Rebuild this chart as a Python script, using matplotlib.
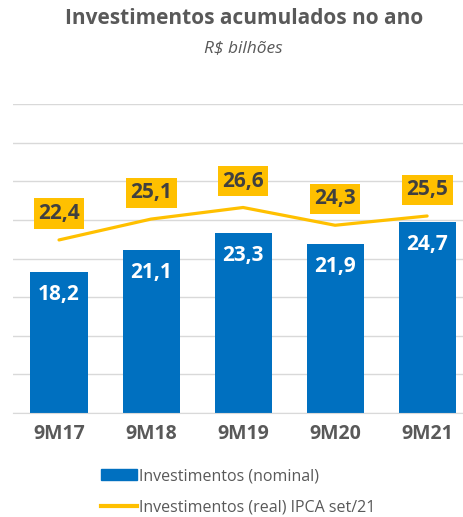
import matplotlib.pyplot as plt
from matplotlib.patches import Patch
from matplotlib.lines import Line2D

plt.rcParams['font.family'] = ['Open Sans', 'DejaVu Sans']

# data
periodos = ["9M17", "9M18", "9M19", "9M20", "9M21"]
nominal = [18.2, 21.1, 23.3, 21.9, 24.7]
real_ipca = [22.4, 25.1, 26.6, 24.3, 25.5]

cinza = "#595959"
azul = "#0070C0"
amarelo = "#FFC000"

fig = plt.figure(figsize=(4.63, 5.17), dpi=100)
ax = fig.add_axes([13 / 463, 0.201, 450 / 463, 0.598])

x = range(len(periodos))
ax.bar(x, nominal, width=0.62, color=azul, zorder=2)
ax.plot(x, real_ipca, color=amarelo, lw=2.3, zorder=3, solid_capstyle="round")

# labels inside bars
for i, v in enumerate(nominal):
    ax.annotate(f"{v:.1f}".replace(".", ","), (i, v), xytext=(0, -16),
                textcoords="offset points", ha="center", va="center",
                color="white", fontsize=15, fontweight="bold", zorder=4)

# yellow boxes above line
for i, v in enumerate(real_ipca):
    ax.annotate(f"{v:.1f}".replace(".", ","), (i, v), xytext=(0, 19),
                textcoords="offset points", ha="center", va="center",
                color="#404040", fontsize=15, fontweight="bold", zorder=5,
                bbox=dict(boxstyle="square,pad=0.22", fc=amarelo, ec="none"))

ax.set_ylim(0, 40)
ax.set_yticks(range(0, 41, 5))
ax.set_xlim(-0.5, 4.39)
ax.yaxis.grid(True, color="#D9D9D9", lw=1, zorder=0)
ax.set_axisbelow(True)
ax.tick_params(axis="y", length=0, labelleft=False)
ax.tick_params(axis="x", length=0, pad=8)
ax.set_xticks(list(x))
ax.set_xticklabels(periodos, fontsize=14, fontweight="bold", color=cinza)
for s in ["top", "right", "left"]:
    ax.spines[s].set_visible(False)
ax.spines["bottom"].set_color("#D9D9D9")

fig.text(244 / 463, 1 - 18 / 517, "Investimentos acumulados no ano", ha="center", va="center",
         fontsize=15, fontweight="bold", color=cinza)
fig.text(243 / 463, 1 - 48 / 517, "R$ bilhões", ha="center", va="center",
         fontsize=12.5, style="italic", color=cinza)

handles = [Patch(color=azul, label="Investimentos (nominal)"),
           Line2D([0], [0], color=amarelo, lw=3, label="Investimentos (real) IPCA set/21")]
fig.legend(handles=handles, loc="upper left", bbox_to_anchor=(95 / 463, 1 - 462 / 517),
           frameon=False, fontsize=11.5, labelcolor=cinza, handlelength=2.2,
           handletextpad=0.15, labelspacing=0.95, borderaxespad=0)

fig.savefig("out.png", dpi=100)
